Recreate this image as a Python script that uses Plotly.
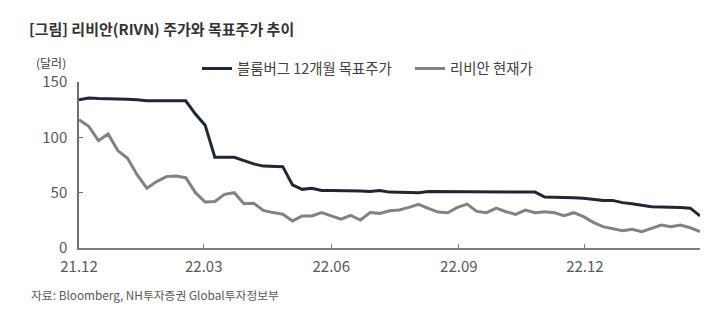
import plotly.graph_objects as go
import pandas as pd

# Weekly observations from 2021-12-01
start_date = "2021-12-01"
n_weeks = 65

target_price = [134, 135.5, 135, 135, 135, 134.5, 134, 133, 133, 133,
                133, 133, 121, 111, 82, 82, 82, 79, 76, 74,
                73.5, 73.5, 57, 53, 54, 52, 52, 52, 52, 51.5,
                51, 52, 50.5, 50.5, 50.5, 50, 51, 51, 51, 51,
                51, 51, 51, 51, 51, 51, 50.8, 50.5, 46, 46,
                46, 45.5, 45, 44, 43, 43, 41, 40, 38.5, 37.3,
                37, 37, 36.5, 36, 29]

current_price = [116, 110, 97, 103, 88, 81, 66, 54, 60, 64.5,
                 65, 63.5, 50, 41.5, 42, 48.5, 50, 40, 40.5, 34,
                 32, 30.5, 24.5, 29, 29, 32, 29, 26, 29.5, 25.3,
                 32, 31.3, 33.7, 34.3, 36.7, 39.4, 35.8, 32.5, 31.9, 36.7,
                 39.7, 33.1, 31.9, 36, 32.8, 30.4, 34.3, 31.9, 32.8, 31.9,
                 29.2, 31.9, 28.3, 23.2, 19.3, 17.8, 15.7, 16.9, 14.8, 17.8,
                 20.8, 19.3, 20.8, 18.3, 14.8]

tick_dates = ["2021-12-01", "2022-03-01", "2022-06-01", "2022-09-01", "2022-12-01"]
tick_labels = ["21.12", "22.03", "22.06", "22.09", "22.12"]

series_names = ["블룸버그 12개월 목표주가", "리비안 현재가"]

dates = pd.date_range(start_date, periods=n_weeks, freq="7D")

fig = go.Figure()
fig.add_trace(go.Scatter(x=dates, y=target_price, mode="lines", name=series_names[0],
                         line=dict(color="#1e2834", width=3)))
fig.add_trace(go.Scatter(x=dates, y=current_price, mode="lines", name=series_names[1],
                         line=dict(color="#828282", width=3)))

font_family = "Noto Sans CJK KR, Noto Sans, sans-serif"

fig.update_layout(
    width=728, height=312,
    margin=dict(l=79, r=28, t=82, b=64),
    paper_bgcolor="white", plot_bgcolor="white",
    font=dict(family=font_family, color="#595959", size=14),
    showlegend=True,
    legend=dict(orientation="h", x=0.19, y=1.08, xanchor="left", yanchor="middle",
                font=dict(size=14.4, color="#404040"), bgcolor="rgba(0,0,0,0)",
                itemwidth=30, tracegroupgap=0, entrywidth=168),
    title=dict(text="<b>[그림] 리비안(RIVN) 주가와 목표주가 추이</b>",
               xref="container", yref="container",
               x=29/728, y=1-30/312, xanchor="left", yanchor="middle",
               font=dict(size=15, color="#333333", family=font_family)),
)

fig.update_xaxes(
    range=[dates[0], dates[-1]],
    tickvals=pd.to_datetime(tick_dates), ticktext=tick_labels,
    showgrid=False, zeroline=False,
    showline=True, linecolor="#7f7f7f", linewidth=1.5,
    ticks="inside", ticklen=4, tickcolor="#7f7f7f",
    ticklabelstandoff=4,
    tickfont=dict(size=15, color="#595959"),
)
fig.update_yaxes(
    range=[0, 150], tickvals=[0, 50, 100, 150],
    showgrid=False, zeroline=False,
    showline=True, linecolor="#6f6f6f", linewidth=1.5,
    ticks="inside", ticklen=4, tickcolor="#6f6f6f",
    ticklabelstandoff=7,
    tickfont=dict(size=15, color="#595959"),
)

fig.add_annotation(text="(달러)", xref="paper", yref="paper",
                   x=(51-79)/621, y=1+(82-62)/166, xanchor="center", yanchor="middle",
                   showarrow=False, font=dict(size=12, color="#404040"))
fig.add_annotation(text="자료: Bloomberg, NH투자증권 Global투자정보부", xref="paper", yref="paper",
                   x=(29-79)/621, y=-(294-248)/166, xanchor="left", yanchor="middle",
                   showarrow=False, font=dict(size=11.8, color="#595959"))

fig.write_html("out.html")
